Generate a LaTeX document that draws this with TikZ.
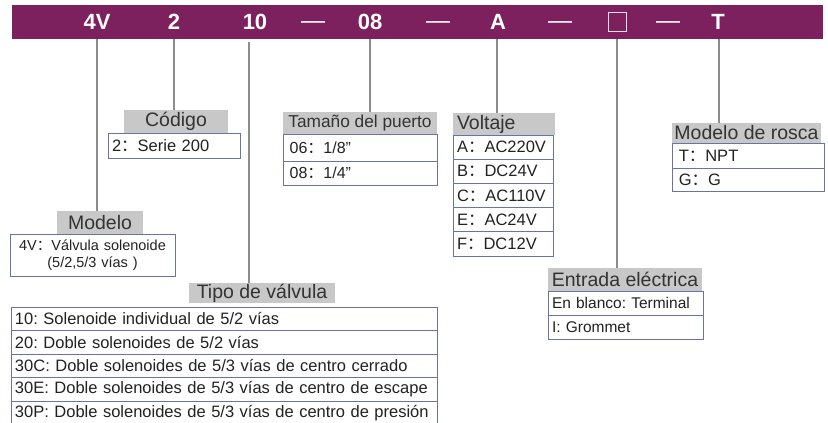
\documentclass[tikz,border=0pt]{standalone}
\usepackage{fontspec}
\setmainfont{Liberation Sans}
\newfontfamily\cjkfont{Noto Sans CJK SC}
\newcommand{\fcolon}{{\cjkfont ：}}
\newcommand{\fsz}[1]{\fontsize{#1}{#1}\selectfont}
\definecolor{barpurple}{HTML}{7D215E}
\definecolor{hdrgray}{HTML}{C8C8C8}
\definecolor{hdrtext}{HTML}{333333}
\definecolor{cellborder}{HTML}{6A74A4}
\definecolor{celltext}{HTML}{222222}
\definecolor{conngray}{HTML}{8C8C8C}
\frenchspacing
\tikzset{
  bar/.style={fill=barpurple, draw=none, inner sep=0},
  toplbl/.style={anchor=base, text=white, inner sep=0, font=\bfseries\fsz{22}},
  dashlbl/.style={anchor=base, text=white, inner sep=0, font=\fsz{24}},
  hdr/.style={fill=hdrgray, draw=none, inner sep=0, text=hdrtext, font=\fsz{19.5}},
  cell/.style={draw=cellborder, line width=0.9pt, fill=white, inner xsep=4pt, inner ysep=0pt, text=celltext, align=left, font=\fsz{16.5}},
  conn/.style={draw=conngray, line width=1.3pt},
}
\begin{document}
\begin{tikzpicture}[x=1pt,y=-1pt]
\useasboundingbox (0,0) rectangle (828,423);
% top bar
\node[bar, minimum width=811, minimum height=34] (bar) at (417.5,22) {};
\node[toplbl] (l4v) at (97,29.5) {4V};
\node[toplbl] (l2) at (174,29.5) {2};
\node[toplbl] (l10) at (255,29.5) {10};
\node[dashlbl] (d1) at (313,28) {—};
\node[toplbl] (l08) at (370,29.5) {08};
\node[dashlbl] (d2) at (438,28) {—};
\node[toplbl] (lA) at (498,29.5) {A};
\node[dashlbl] (d3) at (560,28) {—};
\node[draw=white!85!barpurple, line width=1pt, minimum width=18, minimum height=19, inner sep=0] (lbox) at (617,21.5) {};
\node[dashlbl] (d4) at (668,28) {—};
\node[toplbl] (lT) at (718,29.5) {T};

% Codigo
\node[hdr, minimum width=104, minimum height=23] (hCod) at (176,121.5) {Código};
\node[cell, minimum width=132, text width=124, minimum height=25] (cCod1) at (174,145.5) {2\fcolon Serie 200};

% Modelo
\node[hdr, minimum width=86, minimum height=23] (hMod) at (100,222.5) {Modelo};
\node[cell, minimum width=165, text width=157, minimum height=42, align=center, font=\fontsize{14.5}{17.5}\selectfont] (cMod1) at (92.5,255) {4V\fcolon Válvula solenoide\\(5/2,5/3 vías )};

% Tipo de valvula
\node[hdr, minimum width=146, minimum height=20] (hTipo) at (262,293) {Tipo de válvula};
\node[cell, minimum width=426, text width=418, minimum height=23.6] (cTipo1) at (224,318.8) {10: Solenoide individual de 5/2 vías};
\node[cell, minimum width=426, text width=418, minimum height=23.6] (cTipo2) at (224,342.4) {20: Doble solenoides de 5/2 vías};
\node[cell, minimum width=426, text width=418, minimum height=23.6] (cTipo3) at (224,366.0) {30C: Doble solenoides de 5/3 vías de centro cerrado};
\node[cell, minimum width=426, text width=418, minimum height=23.6] (cTipo4) at (224,389.6) {30E: Doble solenoides de 5/3 vías de centro de escape};
\node[cell, minimum width=426, text width=418, minimum height=23.6] (cTipo5) at (224,413.2) {30P: Doble solenoides de 5/3 vías de centro de presión};

% Tamano del puerto
\node[hdr, minimum width=154, minimum height=22, font=\fsz{17.3}] (hTam) at (360,123) {Tamaño del puerto};
\node[cell, minimum width=154, text width=146, minimum height=27, font=\fsz{16}] (cTam1) at (360,147.5) {\,06\fcolon 1/8"};
\node[cell, minimum width=154, text width=146, minimum height=24, font=\fsz{16}] (cTam2) at (360,173) {\,08\fcolon 1/4"};

% Voltaje
\node[hdr, minimum width=102, minimum height=22, text width=94, align=left] (hVol) at (504,124) {Voltaje};
\node[cell, minimum width=100, text width=92, minimum height=24.2] (cVol1) at (503,147.1) {A\fcolon AC220V};
\node[cell, minimum width=100, text width=92, minimum height=24.2] (cVol2) at (503,171.3) {B\fcolon DC24V};
\node[cell, minimum width=100, text width=92, minimum height=24.2] (cVol3) at (503,195.5) {C\fcolon AC110V};
\node[cell, minimum width=100, text width=92, minimum height=24.2] (cVol4) at (503,219.7) {E\fcolon AC24V};
\node[cell, minimum width=100, text width=92, minimum height=24.2] (cVol5) at (503,243.9) {F\fcolon DC12V};

% Entrada electrica
\node[hdr, minimum width=154, minimum height=23] (hEnt) at (625,279.5) {Entrada eléctrica};
\node[cell, minimum width=155, text width=147, minimum height=24, font=\fsz{15.5}] (cEnt1) at (625.5,303) {En blanco: Terminal};
\node[cell, minimum width=155, text width=147, minimum height=24, font=\fsz{15.5}] (cEnt2) at (625.5,327) {I: Grommet};

% Modelo de rosca
\node[hdr, minimum width=149, minimum height=20] (hRos) at (746.5,133) {Modelo de rosca};
\node[cell, minimum width=152, text width=144, minimum height=25] (cRos1) at (748,155.5) {\,T\fcolon NPT};
\node[cell, minimum width=152, text width=144, minimum height=23] (cRos2) at (748,179.5) {\,G\fcolon G};

% connectors
\coordinate (c4v) at (97,39);
\coordinate (c2) at (174,39);
\coordinate (c10) at (249,42);
\coordinate (c08) at (370,39);
\coordinate (cA) at (497,39);
\coordinate (cbox) at (617,39);
\coordinate (cT) at (719,39);
\draw[conn] (c4v) -- (c4v |- hMod.north);
\draw[conn] (c2) -- (c2 |- hCod.north);
\draw[conn] (c10) -- (c10 |- hTipo.north);
\draw[conn] (c08) -- (c08 |- hTam.north);
\draw[conn] (cA) -- (cA |- hVol.north);
\draw[conn] (cbox) -- (cbox |- hEnt.north);
\draw[conn] (cT) -- (cT |- hRos.north);
\end{tikzpicture}
\end{document}
